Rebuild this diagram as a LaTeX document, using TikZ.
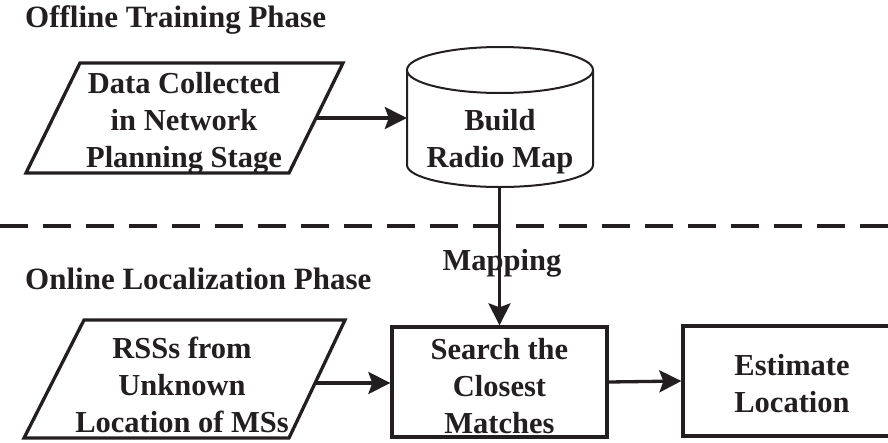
\documentclass[tikz,border=0pt]{standalone}
\usepackage{fontspec}
\setmainfont{Liberation Serif}
\usetikzlibrary{arrows.meta,calc}
\definecolor{ink}{HTML}{231F20}
\begin{document}
\begin{tikzpicture}[x=1pt,y=-1pt,
  txt/.style={font=\fontsize{30.5}{37}\selectfont\bfseries, text=ink, align=center, inner sep=0pt},
  title/.style={font=\fontsize{31}{37}\selectfont\bfseries, text=ink, anchor=base west, inner sep=0pt},
  datain/.style={draw=ink, line width=3.3pt, line join=miter},
  procbox/.style={rectangle, draw=ink, line width=3.3pt, inner sep=0pt},
  flow/.style={draw=ink, line width=3.3pt, -{Stealth[length=22pt,width=22pt,inset=4pt]}},
  divider/.style={draw=ink, line width=3.3pt, dash pattern=on 28pt off 15pt}]
\useasboundingbox (0,0) rectangle (888,442);

% section titles
\node[title] (offline) at (25,27) {Offline Training Phase};
\node[title] (online) at (25,289) {Online Localization Phase};

% phase divider
\coordinate (dl) at (0,226);
\coordinate (dr) at (888,226);
\draw[divider] (dl) -- (dr);

% offline phase: input data (parallelogram)
\coordinate (d1) at (80,63);
\coordinate (d2) at (343,63);
\coordinate (d3) at (289,173);
\coordinate (d4) at (26,173);
\coordinate (dataout) at ($(d2)!0.5!(d3)$);
\draw[datain] (d1) -- (d2) -- (d3) -- (d4) -- cycle;
\node[txt] (datatext) at (184,123) {Data Collected\\in Network\\Planning Stage};

% radio map database (cylinder)
\node[minimum width=186pt, minimum height=140pt, inner sep=0pt] (map) at (500,117) {};
\fill[white] (407,70) -- (407,165) arc[start angle=180,end angle=360,x radius=93pt,y radius=22pt] -- (593,70) -- cycle;
\draw[ink, line width=2pt] (407,70) -- (407,165)
  arc[start angle=180,end angle=360,x radius=93pt,y radius=22pt] -- (593,70);
\draw[ink, line width=2pt, fill=white] (500,70) ellipse [x radius=93pt, y radius=23pt];
\node[txt] (maptext) at (500,142) {Build\\Radio Map};

% online phase: measured RSS input (parallelogram)
\coordinate (r1) at (84,320);
\coordinate (r2) at (345,320);
\coordinate (r3) at (289,438);
\coordinate (r4) at (24,438);
\coordinate (rssout) at (316,383);
\draw[datain] (r1) -- (r2) -- (r3) -- (r4) -- cycle;
\node[txt] (rsstext) at (182,385) {RSSs from\\Unknown\\Location of MSs};

\node[procbox, minimum width=215pt, minimum height=110pt] (search) at (499.5,382) {};
\node[txt] (searchtext) at (499.5,386) {Search the\\Closest\\Matches};
\node[procbox, minimum width=218pt, minimum height=110pt] (estimate) at (792,381) {};
\node[txt] (estimatetext) at (792,384) {Estimate\\Location};

% connectors
\draw[flow] (dataout) -- (map.west |- dataout);
\draw[flow] (map.south -| search.north) -- (search.north);
\node[txt, anchor=base] (mapping) at (502,270) {Mapping};
\draw[flow] (rssout) -- (search.west |- rssout);
\draw[flow] (search.east) -- (estimate.west);
\end{tikzpicture}
\end{document}
